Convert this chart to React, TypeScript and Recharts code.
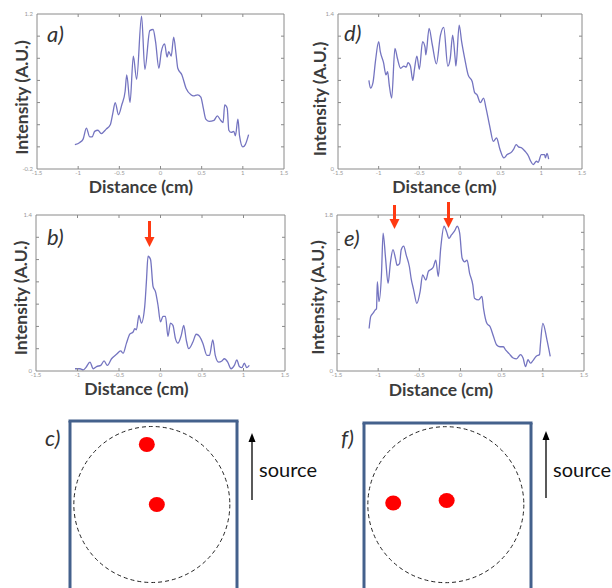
import React from 'react';
import {
  LineChart, Line, XAxis, YAxis, ScatterChart, Scatter, ReferenceLine, ReferenceDot,
} from 'recharts';

// ---------- data ----------
const xTicks = [-1.5, -1, -0.5, 0, 0.5, 1, 1.5];
const yTicksA = [-0.2, 0, 0.2, 0.4, 0.6, 0.8, 1.0, 1.2];
const yTicksB = [0, 0.2, 0.4, 0.6, 0.8, 1.0, 1.2, 1.4];
const yTicksD = [0, 0.2, 0.4, 0.6, 0.8, 1.0, 1.2, 1.4];
const yTicksE = [0, 0.2, 0.4, 0.6, 0.8, 1.0, 1.2, 1.4, 1.6, 1.8];

const profileA: [number, number][] = [
  [-1.04, 0.02], [-0.98, 0.04], [-0.94, 0.07], [-0.9, 0.17], [-0.86, 0.09], [-0.83, 0.09], [-0.8, 0.14],
  [-0.76, 0.15], [-0.72, 0.12], [-0.66, 0.16], [-0.61, 0.2], [-0.58, 0.3], [-0.55, 0.4], [-0.51, 0.29],
  [-0.47, 0.38], [-0.43, 0.5], [-0.41, 0.65], [-0.37, 0.4], [-0.33, 0.82], [-0.29, 0.61], [-0.23, 1.18],
  [-0.19, 0.7], [-0.13, 1.05], [-0.09, 1.06], [-0.06, 0.95], [-0.02, 0.71], [0.01, 0.86], [0.05, 0.93],
  [0.08, 0.81], [0.1, 0.86], [0.13, 0.82], [0.16, 0.99], [0.19, 0.83], [0.21, 0.71], [0.26, 0.65],
  [0.31, 0.53], [0.37, 0.47], [0.4, 0.46], [0.45, 0.47], [0.49, 0.45], [0.52, 0.35], [0.55, 0.25],
  [0.59, 0.23], [0.65, 0.24], [0.69, 0.28], [0.73, 0.24], [0.76, 0.22], [0.78, 0.38], [0.81, 0.35],
  [0.83, 0.15], [0.86, 0.13], [0.89, 0.14], [0.91, 0.1], [0.94, 0.25], [0.96, 0.1], [1.0, 0.0],
  [1.03, 0.02], [1.07, 0.11],
];

const profileD: [number, number][] = [
  [-1.12, 0.8], [-1.1, 0.73], [-1.07, 0.78], [-1.04, 0.97], [-1.0, 1.15], [-0.98, 1.06], [-0.94, 0.96],
  [-0.91, 0.85], [-0.89, 0.88], [-0.87, 0.76], [-0.84, 0.64], [-0.8, 1.09], [-0.77, 1.0], [-0.73, 0.91],
  [-0.69, 0.93], [-0.66, 0.92], [-0.64, 0.96], [-0.61, 0.93], [-0.58, 0.8], [-0.56, 0.9], [-0.53, 1.02],
  [-0.5, 0.9], [-0.46, 1.15], [-0.43, 1.1], [-0.42, 1.03], [-0.38, 1.27], [-0.34, 1.12], [-0.29, 0.95],
  [-0.24, 1.21], [-0.2, 1.28], [-0.15, 0.93], [-0.12, 1.0], [-0.09, 1.21], [-0.06, 1.0], [-0.05, 0.93],
  [-0.01, 1.3], [0.02, 1.15], [0.06, 0.99], [0.1, 0.85], [0.15, 0.79], [0.18, 0.69], [0.21, 0.67],
  [0.25, 0.6], [0.29, 0.64], [0.32, 0.55], [0.37, 0.37], [0.41, 0.25], [0.45, 0.28], [0.49, 0.18],
  [0.54, 0.1], [0.58, 0.13], [0.63, 0.15], [0.66, 0.18], [0.69, 0.22], [0.72, 0.2], [0.76, 0.19],
  [0.8, 0.16], [0.84, 0.12], [0.87, 0.07], [0.9, 0.04], [0.94, 0.07], [0.96, 0.06], [1.0, 0.13],
  [1.04, 0.13], [1.05, 0.1], [1.07, 0.14], [1.09, 0.09],
];

const profileB: [number, number][] = [
  [-1.03, 0.02], [-0.97, 0.02], [-0.93, 0.01], [-0.9, 0.03], [-0.85, 0.08], [-0.81, 0.02], [-0.77, 0.04],
  [-0.72, 0.05], [-0.68, 0.09], [-0.64, 0.05], [-0.59, 0.11], [-0.53, 0.15], [-0.48, 0.18], [-0.45, 0.16],
  [-0.41, 0.25], [-0.37, 0.33], [-0.33, 0.35], [-0.31, 0.38], [-0.29, 0.37], [-0.26, 0.5], [-0.23, 0.43],
  [-0.19, 0.58], [-0.17, 0.8], [-0.15, 1.03], [-0.12, 1.0], [-0.09, 0.76], [-0.06, 0.71], [-0.03, 0.59],
  [0.0, 0.44], [0.03, 0.49], [0.06, 0.49], [0.09, 0.31], [0.12, 0.43], [0.15, 0.41], [0.18, 0.29],
  [0.21, 0.25], [0.25, 0.32], [0.28, 0.41], [0.31, 0.28], [0.34, 0.2], [0.39, 0.26], [0.43, 0.33],
  [0.47, 0.31], [0.51, 0.25], [0.56, 0.14], [0.59, 0.14], [0.63, 0.28], [0.66, 0.14], [0.7, 0.08],
  [0.74, 0.09], [0.77, 0.11], [0.81, 0.08], [0.85, 0.02], [0.89, 0.05], [0.92, 0.1], [0.95, 0.04],
  [0.98, 0.03], [1.01, 0.07], [1.04, 0.03], [1.07, 0.05],
];

const profileE: [number, number][] = [
  [-1.11, 0.49], [-1.09, 0.63], [-1.06, 0.67], [-1.04, 0.7], [-1.02, 0.72], [-1.01, 1.03], [-0.99, 0.8],
  [-0.96, 1.11], [-0.94, 1.59], [-0.91, 1.3], [-0.88, 1.01], [-0.85, 1.26], [-0.82, 1.4], [-0.79, 1.3],
  [-0.77, 1.22], [-0.74, 1.24], [-0.72, 1.4], [-0.69, 1.44], [-0.66, 1.34], [-0.62, 1.2], [-0.6, 1.07],
  [-0.57, 0.94], [-0.53, 0.78], [-0.49, 0.92], [-0.46, 1.11], [-0.42, 1.05], [-0.39, 1.15], [-0.36, 1.17],
  [-0.33, 1.2], [-0.3, 1.28], [-0.27, 1.09], [-0.24, 1.42], [-0.2, 1.67], [-0.17, 1.61], [-0.14, 1.53],
  [-0.11, 1.57], [-0.07, 1.62], [-0.04, 1.67], [-0.01, 1.59], [0.02, 1.3], [0.05, 1.26], [0.08, 1.28],
  [0.11, 1.13], [0.15, 0.99], [0.17, 0.84], [0.22, 0.82], [0.26, 0.86], [0.28, 0.72], [0.32, 0.55],
  [0.36, 0.51], [0.4, 0.4], [0.44, 0.3], [0.48, 0.28], [0.52, 0.28], [0.55, 0.24], [0.59, 0.2],
  [0.64, 0.15], [0.68, 0.14], [0.73, 0.19], [0.76, 0.15], [0.79, 0.05], [0.82, 0.13], [0.85, 0.09],
  [0.88, 0.12], [0.92, 0.17], [0.96, 0.19], [0.97, 0.3], [1.0, 0.55], [1.05, 0.36], [1.09, 0.17],
];

// bead positions in the sample (normalised coordinates, square = [-1,1])
const beadsC = [{ x: -0.08, y: 0.72 }, { x: 0.04, y: 0.0 }];
const beadsF = [{ x: -0.65, y: 0.04 }, { x: -0.01, y: 0.07 }];
const circleC = { x: -0.02, y: 0.0 };
const circleF = { x: -0.02, y: 0.02 };

// ---------- styles ----------
const AXIS = '#8a8a8a';
const TICK_TXT = { fontSize: 6, fill: '#9a9a9a', fontFamily: 'Lato, sans-serif' };
const LINE = '#7474c0';
const TITLE = '#3c3c3c';
const FRAME = '#44618c';
const TL = 3; // inward tick length (px)

// inward tick marks at both ends of a vertical segment
const VTicks = (p: any) => {
  const top = Math.min(p.y1, p.y2);
  const bot = Math.max(p.y1, p.y2);
  return (
    <g>
      <line x1={p.x1} x2={p.x1} y1={bot} y2={bot - TL} stroke={AXIS} strokeWidth={1} />
      <line x1={p.x1} x2={p.x1} y1={top} y2={top + TL} stroke={AXIS} strokeWidth={1} />
    </g>
  );
};
// inward tick marks at both ends of a horizontal segment
const HTicks = (p: any) => {
  const l = Math.min(p.x1, p.x2);
  const r = Math.max(p.x1, p.x2);
  return (
    <g>
      <line x1={l} x2={l + TL} y1={p.y1} y2={p.y1} stroke={AXIS} strokeWidth={1} />
      <line x1={r} x2={r - TL} y1={p.y1} y2={p.y1} stroke={AXIS} strokeWidth={1} />
    </g>
  );
};

type M = { top: number; right: number; bottom: number; left: number };

// box + inward ticks, drawn in a chart whose plot area coincides with the profile's plot area
function Frame(props: { margin: M; yTicks: number[] }) {
  const { margin, yTicks } = props;
  const lo = yTicks[0];
  const hi = yTicks[yTicks.length - 1];
  return (
    <div style={{ position: 'absolute', left: 0, top: 0 }}>
      <ScatterChart width={300} height={200} margin={margin}>
        <XAxis dataKey="x" type="number" domain={[-1.5, 1.5]} hide allowDataOverflow />
        <YAxis dataKey="y" type="number" domain={[lo, hi]} hide allowDataOverflow />
        {xTicks.slice(1, -1).map((t) => (
          <ReferenceLine key={`vx${t}`} segment={[{ x: t, y: lo }, { x: t, y: hi }]} shape={VTicks} ifOverflow="visible" />
        ))}
        {yTicks.slice(1, -1).map((t) => (
          <ReferenceLine key={`hy${t}`} segment={[{ x: -1.5, y: t }, { x: 1.5, y: t }]} shape={HTicks} ifOverflow="visible" />
        ))}
        <ReferenceLine segment={[{ x: -1.5, y: lo }, { x: -1.5, y: hi }]} stroke={AXIS} strokeWidth={1} ifOverflow="visible" />
        <ReferenceLine segment={[{ x: -1.5, y: hi }, { x: 1.5, y: hi }]} stroke={AXIS} strokeWidth={1} ifOverflow="visible" />
        <ReferenceLine segment={[{ x: 1.5, y: hi }, { x: 1.5, y: lo }]} stroke={AXIS} strokeWidth={1} ifOverflow="visible" />
        <ReferenceLine segment={[{ x: 1.5, y: lo }, { x: -1.5, y: lo }]} stroke={AXIS} strokeWidth={1} ifOverflow="visible" />
        <Scatter data={[{ x: 0, y: lo }]} shape={() => <g />} isAnimationActive={false} />
      </ScatterChart>
    </div>
  );
}

function Profile(props: { left: number; top: number; margin: M; pts: [number, number][]; yTicks: number[] }) {
  const { left, top, margin, pts, yTicks } = props;
  const data = pts.map(([x, y]) => ({ x, y }));
  const lo = yTicks[0];
  const hi = yTicks[yTicks.length - 1];
  const yFmt = (v: number) => (v === lo || v === hi ? String(v) : '');
  const m = { top: margin.top, right: margin.right, bottom: margin.bottom - 1, left: margin.left - 1 };
  return (
    <div style={{ position: 'absolute', left, top, width: 300, height: 200 }}>
      <div style={{ position: 'absolute', left: 0, top: 0 }}>
        <LineChart width={300} height={200} data={data} margin={m}>
          <XAxis dataKey="x" type="number" domain={[-1.5, 1.5]} ticks={xTicks}
            height={1} tickSize={0} tickMargin={2} axisLine={false} tickLine={false}
            tick={TICK_TXT} tickFormatter={(v: number) => String(v)} />
          <YAxis type="number" domain={[lo, hi]} ticks={yTicks}
            width={1} tickSize={0} tickMargin={4} axisLine={false} tickLine={false}
            tick={TICK_TXT} tickFormatter={yFmt} />
          <Line dataKey="y" type="monotone" stroke={LINE} strokeWidth={1.3}
            dot={false} isAnimationActive={false} />
        </LineChart>
      </div>
      <Frame margin={margin} yTicks={yTicks} />
    </div>
  );
}

const Bead = (p: any) => <ellipse cx={p.cx} cy={p.cy} rx={8} ry={7.5} fill="#ff0000" />;

function Sample(props: { left: number; top: number; height: number; yLo: number; beads: { x: number; y: number }[]; circle: { x: number; y: number } }) {
  const { left, top, height, yLo, beads, circle } = props;
  return (
    <div style={{ position: 'absolute', left, top }}>
      <ScatterChart width={187} height={height} margin={{ top: 10, right: 10, bottom: 0, left: 10 }}>
        <XAxis dataKey="x" type="number" domain={[-1, 1]} hide allowDataOverflow />
        <YAxis dataKey="y" type="number" domain={[yLo, 1]} hide allowDataOverflow />
        <ReferenceLine segment={[{ x: -1, y: yLo }, { x: -1, y: 1 }]} stroke={FRAME} strokeWidth={3} ifOverflow="visible" />
        <ReferenceLine segment={[{ x: -1, y: 1 }, { x: 1, y: 1 }]} stroke={FRAME} strokeWidth={3} ifOverflow="visible" strokeLinecap="square" />
        <ReferenceLine segment={[{ x: 1, y: 1 }, { x: 1, y: yLo }]} stroke={FRAME} strokeWidth={3} ifOverflow="visible" />
        <ReferenceDot x={circle.x} y={circle.y} r={78} fill="none" stroke="#222" strokeWidth={1}
          strokeDasharray="4 3" ifOverflow="visible" />
        <Scatter data={beads} shape={Bead} isAnimationActive={false} />
      </ScatterChart>
    </div>
  );
}

function RedArrow({ x, y1, y2 }: { x: number; y1: number; y2: number }) {
  return (
    <g>
      <line x1={x} y1={y1} x2={x} y2={y2 - 8} stroke="#ff3a12" strokeWidth={3} />
      <polygon points={`${x - 5},${y2 - 10} ${x + 5},${y2 - 10} ${x},${y2}`} fill="#ff3a12" />
    </g>
  );
}

function SourceArrow({ x, y1, y2 }: { x: number; y1: number; y2: number }) {
  return (
    <g>
      <line x1={x} y1={y1} x2={x} y2={y2 + 7} stroke="#000" strokeWidth={1.3} />
      <polygon points={`${x - 3.5},${y2 + 9} ${x + 3.5},${y2 + 9} ${x},${y2}`} fill="#000" />
    </g>
  );
}

const titleFont = { fontFamily: 'Lato, sans-serif', fontWeight: 700, fontSize: 17.5, fill: TITLE } as const;
const letterFont = { fontFamily: 'Lato, sans-serif', fontStyle: 'italic', fontSize: 22, fill: '#333' } as const;

export default function App() {
  return (
    <div style={{ position: 'absolute', left: 0, top: 0, width: 612, height: 588, background: '#fff', overflow: 'hidden' }}>
      <Profile left={0} top={0} margin={{ top: 14, right: 16, bottom: 31, left: 37 }} pts={profileA} yTicks={yTicksA} />
      <Profile left={306} top={0} margin={{ top: 14, right: 24, bottom: 31, left: 32 }} pts={profileD} yTicks={yTicksD} />
      <Profile left={0} top={200} margin={{ top: 15, right: 15, bottom: 29, left: 36 }} pts={profileB} yTicks={yTicksB} />
      <Profile left={306} top={200} margin={{ top: 15, right: 22, bottom: 29, left: 31 }} pts={profileE} yTicks={yTicksE} />
      <Sample left={60} top={411} height={177} yLo={-1} beads={beadsC} circle={circleC} />
      <Sample left={354} top={413} height={175} yLo={-0.98} beads={beadsF} circle={circleF} />
      <svg width={612} height={588} style={{ position: 'absolute', left: 0, top: 0, pointerEvents: 'none' }}>
        <text x={141} y={193} textAnchor="middle" {...titleFont}>Distance (cm)</text>
        <text x={444.5} y={193} textAnchor="middle" {...titleFont}>Distance (cm)</text>
        <text x={136.5} y={395} textAnchor="middle" {...titleFont}>Distance (cm)</text>
        <text x={441} y={396} textAnchor="middle" {...titleFont}>Distance (cm)</text>
        <text transform="translate(21,97.5) rotate(-90)" textAnchor="middle" dominantBaseline="central" {...titleFont}>Intensity (A.U.)</text>
        <text transform="translate(319.5,99) rotate(-90)" textAnchor="middle" dominantBaseline="central" {...titleFont}>Intensity (A.U.)</text>
        <text transform="translate(20,298) rotate(-90)" textAnchor="middle" dominantBaseline="central" {...titleFont}>Intensity (A.U.)</text>
        <text transform="translate(317.5,297.5) rotate(-90)" textAnchor="middle" dominantBaseline="central" {...titleFont}>Intensity (A.U.)</text>
        <text x={47} y={42} {...letterFont}>a)</text>
        <text x={344} y={41} {...letterFont}>d)</text>
        <text x={47} y={245} {...letterFont}>b)</text>
        <text x={344} y={246} {...letterFont}>e)</text>
        <text x={45} y={446} {...letterFont}>c)</text>
        <text x={341} y={446} {...letterFont}>f)</text>
        <RedArrow x={149.5} y1={221} y2={247} />
        <RedArrow x={394.5} y1={205} y2={229} />
        <RedArrow x={448.5} y1={202} y2={228} />
        <SourceArrow x={252} y1={500} y2={433} />
        <SourceArrow x={546} y1={498} y2={431} />
        <text x={259} y={477} fontFamily="Lato, sans-serif" fontSize={20} fill="#111">source</text>
        <text x={553} y={477} fontFamily="Lato, sans-serif" fontSize={20} fill="#111">source</text>
      </svg>
    </div>
  );
}
